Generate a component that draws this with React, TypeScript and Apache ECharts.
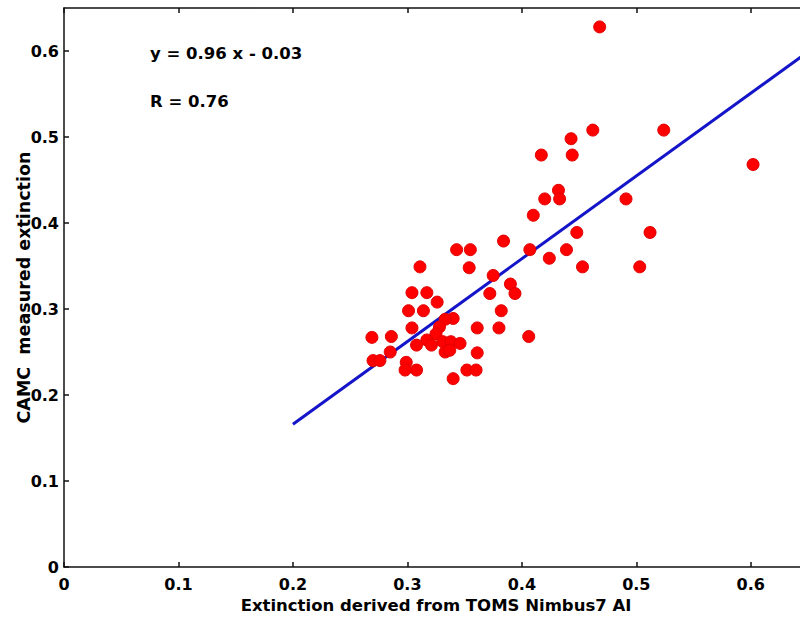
import React, { useEffect, useRef } from "react";
import * as echarts from "echarts";

const xTickLabels = ["0", "0.1", "0.2", "0.3", "0.4", "0.5", "0.6"];
const yTickLabels = ["0", "0.1", "0.2", "0.3", "0.4", "0.5", "0.6"];

const xName = "Extinction derived from TOMS Nimbus7 AI";
const yName = "CAMC  measured extinction";
const equationText = "y = 0.96 x - 0.03";
const rText = "R = 0.76";

// TOMS-derived extinction (x) and CAMC measured extinction (y)
const pointsX = [
  0.468, 0.462, 0.524, 0.443, 0.417, 0.444, 0.602, 0.432, 0.433, 0.420,
  0.491, 0.410, 0.448, 0.512, 0.407, 0.439, 0.424, 0.453, 0.503, 0.384,
  0.343, 0.355, 0.311, 0.354, 0.375, 0.390, 0.394, 0.372, 0.304, 0.317,
  0.326, 0.301, 0.314, 0.382, 0.340, 0.333, 0.304, 0.361, 0.380, 0.406,
  0.286, 0.269, 0.270, 0.285, 0.328, 0.325, 0.317, 0.308, 0.321, 0.331,
  0.338, 0.346, 0.333, 0.337, 0.361, 0.299, 0.308, 0.298, 0.352, 0.360,
  0.340, 0.276,
];
const pointsY = [
  0.628, 0.508, 0.508, 0.498, 0.479, 0.479, 0.468, 0.438, 0.428, 0.428,
  0.428, 0.409, 0.389, 0.389, 0.369, 0.369, 0.359, 0.349, 0.349, 0.379,
  0.369, 0.369, 0.349, 0.348, 0.339, 0.329, 0.318, 0.318, 0.319, 0.319,
  0.308, 0.298, 0.298, 0.298, 0.289, 0.288, 0.278, 0.278, 0.278, 0.268,
  0.268, 0.267, 0.240, 0.250, 0.279, 0.271, 0.264, 0.258, 0.258, 0.262,
  0.262, 0.260, 0.250, 0.252, 0.249, 0.238, 0.229, 0.229, 0.229, 0.229,
  0.219, 0.240,
];

// regression line end points
const fitX = [0.2, 0.65];
const fitY = [0.166, 0.599];

const FONT = "DejaVu Sans";

export default function App() {
  const ref = useRef<HTMLDivElement>(null);
  useEffect(() => {
    if (!ref.current) return;
    const chart = echarts.init(ref.current, undefined, { renderer: "svg" });
    const axisCommon = {
      type: "value" as const,
      min: 0,
      max: 0.65,
      interval: 0.1,
      splitLine: { show: false },
      axisLine: { show: true, onZero: false, lineStyle: { color: "#111", width: 1.5 } },
      axisTick: { show: true, inside: true, length: 5, lineStyle: { color: "#111", width: 1.5 } },
    };
    chart.setOption({
      animation: false,
      backgroundColor: "#ffffff",
      grid: {
        left: 64,
        top: 8,
        width: 744,
        height: 559,
        containLabel: false,
        outerBoundsMode: "none",
      },
      xAxis: [
        {
          ...axisCommon,
          position: "bottom",
          name: xName,
          nameLocation: "middle",
          nameGap: 29,
          nameTextStyle: { color: "#000", fontFamily: FONT, fontWeight: "bold", fontSize: 16.5 },
          axisLabel: {
            color: "#000",
            fontFamily: FONT,
            fontWeight: "bold",
            fontSize: 16,
            margin: 9,
            showMaxLabel: false,
            formatter: (v: number) => xTickLabels[Math.round(v * 10)] ?? "",
          },
        },
        {
          ...axisCommon,
          position: "top",
          axisLabel: { show: false },
        },
      ],
      yAxis: [
        {
          ...axisCommon,
          position: "left",
          name: yName,
          nameLocation: "middle",
          nameGap: 31,
          nameRotate: 90,
          nameMoveOverlap: false,
          nameTextStyle: { color: "#000", fontFamily: FONT, fontWeight: "bold", fontSize: 17.5 },
          axisLabel: {
            color: "#000",
            fontFamily: FONT,
            fontWeight: "bold",
            fontSize: 16,
            margin: 5,
            showMaxLabel: false,
            formatter: (v: number) => yTickLabels[Math.round(v * 10)] ?? "",
          },
        },
        {
          ...axisCommon,
          position: "right",
          axisLabel: { show: false },
        },
      ],
      graphic: [
        {
          type: "text",
          left: 150,
          top: 45,
          style: { text: equationText, fill: "#000", font: `bold 16.5px "${FONT}"` },
        },
        {
          type: "text",
          left: 150,
          top: 93,
          style: { text: rText, fill: "#000", font: `bold 16.5px "${FONT}"` },
        },
      ],
      series: [
        {
          type: "line",
          data: fitX.map((x, i) => [x, fitY[i]]),
          showSymbol: false,
          symbol: "none",
          lineStyle: { color: "#1414c8", width: 3 },
          z: 2,
        },
        {
          type: "scatter",
          data: pointsX.map((x, i) => [x, pointsY[i]]),
          symbol: "circle",
          symbolSize: 12,
          itemStyle: { color: "#ff0000", borderColor: "#e00000", borderWidth: 1, opacity: 1 },
          z: 3,
        },
      ],
    });
    return () => chart.dispose();
  }, []);
  return (
    <div
      ref={ref}
      style={{ position: "absolute", left: 0, top: 0, width: 800, height: 619 }}
    />
  );
}
